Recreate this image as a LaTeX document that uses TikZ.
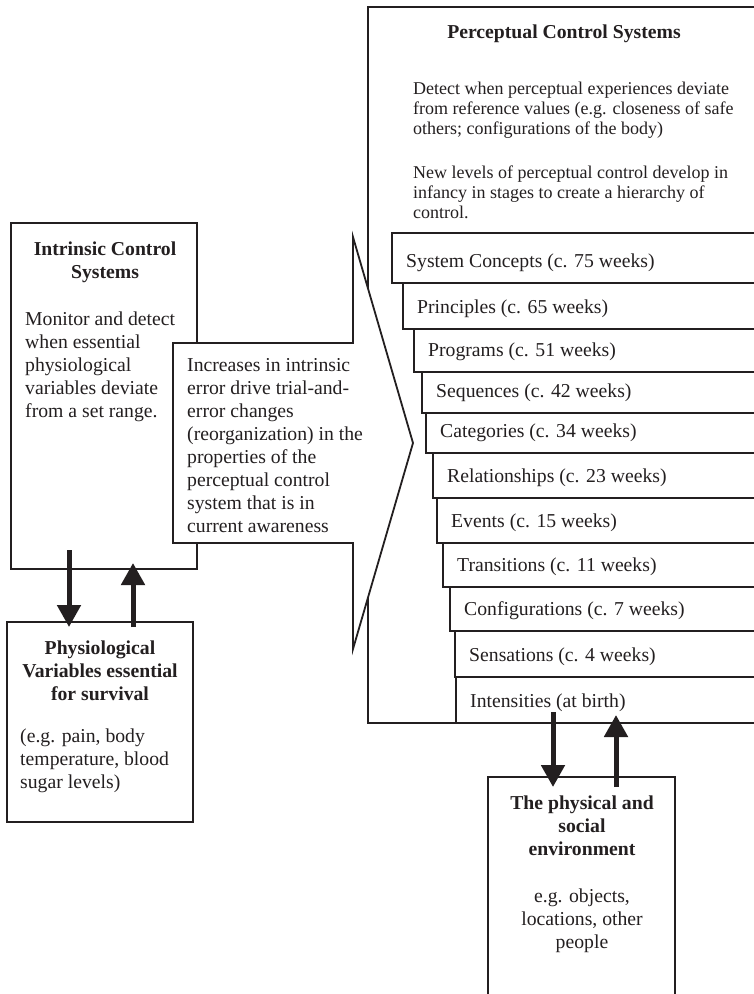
\documentclass[tikz,border=0pt]{standalone}
\usepackage{fontspec}
\setmainfont{Liberation Serif}
\usetikzlibrary{arrows.meta,calc}
\definecolor{ink}{RGB}{35,31,32}
\begin{document}
\begin{tikzpicture}[x=1pt,y=-1pt]
\tikzset{
  box/.style={draw=ink, line width=1.8pt, fill=white, rectangle, inner sep=0pt, outer sep=0pt},
  txt/.style={inner sep=0pt, text=ink, font=\fontsize{19.7}{23}\selectfont},
  btxt/.style={inner sep=0pt, text=ink, font=\fontsize{19.7}{23}\selectfont\bfseries},
  stxt/.style={inner sep=0pt, text=ink, font=\fontsize{18}{20}\selectfont},
  bigarrow/.style={draw=ink, line width=5pt, -{Triangle[length=22pt,width=23pt]}},
  callout/.style={draw=ink, line width=1.8pt, fill=white, line join=miter},
}
\useasboundingbox (0,0) rectangle (753,994);

% Perceptual control systems
\node[box, anchor=north west, minimum width=392, minimum height=716] (perc) at (368,7) {};
\node[btxt, anchor=north] (perctitle) at (564,25) {Perceptual Control Systems};
\node[stxt, anchor=north west, align=left] (percdesc1) at (413,82)
  {Detect when perceptual experiences deviate\\from reference values (e.g. closeness of safe\\others; configurations of the body)};
\node[stxt, anchor=north west, align=left] (percdesc2) at (413,166)
  {New levels of perceptual control develop in\\infancy in stages to create a hierarchy of\\control.};

% Hierarchy levels
\foreach \n/\lx/\ty/\by/\txt in {
  1/392/233/283/{System Concepts (c. 75 weeks)},
  2/403/283/329/{Principles (c. 65 weeks)},
  3/414/329/372/{Programs (c. 51 weeks)},
  4/422/372/413/{Sequences (c. 42 weeks)},
  5/426/413/453/{Categories (c. 34 weeks)},
  6/433/453/498/{Relationships (c. 23 weeks)},
  7/437/498/543/{Events (c. 15 weeks)},
  8/443/543/587/{Transitions (c. 11 weeks)},
  9/450/587/631/{Configurations (c. 7 weeks)},
  10/455/631/677/{Sensations (c. 4 weeks)},
  11/456/677/723/{Intensities (at birth)}}{
  \node[box, anchor=north west, minimum width={780-\lx}, minimum height={\by-\ty}] (l\n) at (\lx,\ty) {};
  \node[txt, anchor=west] (lt\n) at (\lx+14,\by-20) {\txt};
}

% Intrinsic control systems
\node[box, anchor=north west, minimum width=186, minimum height=346] (intr) at (11,223) {};
\node[btxt, anchor=north, align=center] (intrtitle) at (105,242) {Intrinsic Control\\Systems};
\node[txt, anchor=north west, align=left] (intrdesc) at (25,312)
  {Monitor and detect\\when essential\\physiological\\variables deviate\\from a set range.};

% Reorganization callout arrow
\draw[callout] (173,343) coordinate (cbl) -- (353,343) -- (353,237) -- (413,443) coordinate (ctip)
  -- (353,649) -- (353,543) -- (173,543) -- cycle;
\node[txt, anchor=north west, align=left] (calltext) at (187,358)
  {Increases in intrinsic\\error drive trial-and-\\error changes\\(reorganization) in the\\properties of the\\perceptual control\\system that is in\\current awareness};

% Physiological variables
\node[box, anchor=north west, minimum width=186, minimum height=200] (phys) at (7,622) {};
\node[btxt, anchor=north, align=center] (phystitle) at (100,641) {Physiological\\Variables essential\\for survival};
\node[txt, anchor=north west, align=left] (physdesc) at (20,729) {(e.g. pain, body\\temperature, blood\\sugar levels)};

% Environment
\node[box, anchor=north west, minimum width=187, minimum height=240] (env) at (488,777) {};
\node[btxt, anchor=north, align=center] (envtitle) at (582,796) {The physical and\\social\\environment};
\node[txt, anchor=north, align=center] (envdesc) at (582,889) {e.g. objects,\\locations, other\\people};

% Arrows
\draw[bigarrow] ($(intr.south west)+(58,-19)$) -- ($(phys.north west)+(62,5)$);
\draw[bigarrow] ($(phys.north west)+(126,5)$) -- ($(intr.south west)+(122,-6)$);
\draw[bigarrow] ($(perc.south west)+(185,-11)$) -- ($(env.north west)+(65,10)$);
\draw[bigarrow] ($(env.north west)+(128,10)$) -- ($(perc.south west)+(248,-8)$);
\end{tikzpicture}
\end{document}
